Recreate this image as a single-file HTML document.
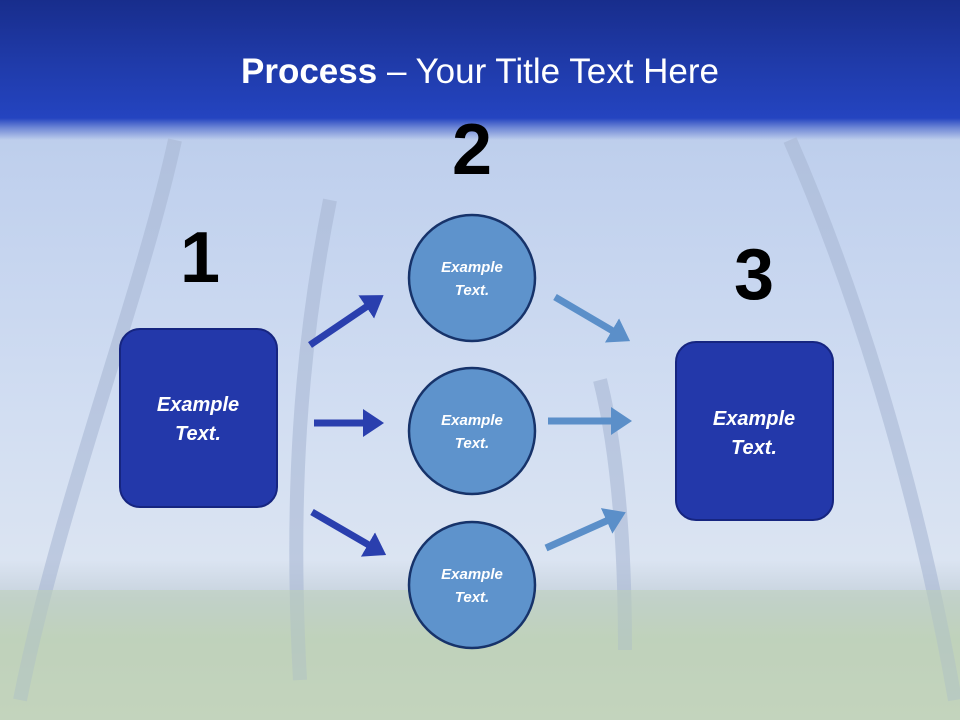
<!DOCTYPE html>
<html><head><meta charset="utf-8"><style>
html,body{margin:0;padding:0}
body{width:960px;height:720px;position:relative;overflow:hidden;font-family:"Liberation Sans",sans-serif;
background:linear-gradient(180deg,#b4c6e8 0px,#c2d2ee 200px,#d2def2 420px,#dbe4f2 560px,#c6d2dc 600px,#c3d4c2 640px,#cbd8c6 720px);}
.banner{position:absolute;left:0;top:0;width:960px;height:140px;background:linear-gradient(180deg,#182d8c 0px,#1f3aa8 60px,#2444c0 118px,rgba(60,90,200,0.6) 128px,rgba(120,150,220,0) 140px);}
.title{position:absolute;top:52px;width:960px;text-align:center;color:#fff;font-size:35px;}
.num{position:absolute;font-weight:bold;font-size:72px;color:#000;transform:translateX(-50%);line-height:1}
</style></head><body>
<div class="banner"></div>
<div class="title"><b>Process</b> – Your Title Text Here</div>
<svg width="960" height="720" style="position:absolute;left:0;top:0" font-family="Liberation Sans, sans-serif">
<defs>
<marker id="ad" markerWidth="4" markerHeight="4" refX="1" refY="2" orient="auto" markerUnits="strokeWidth"><path d="M0,0 L3,2 L0,4 Z" fill="#2a3fae"/></marker>
<marker id="al" markerWidth="4" markerHeight="4" refX="1" refY="2" orient="auto" markerUnits="strokeWidth"><path d="M0,0 L3,2 L0,4 Z" fill="#5b8fc9"/></marker>
</defs>
<!-- faint palm trunks -->
<g stroke="#a9b8d4" stroke-width="14" fill="none" opacity="0.6">
<path d="M175,140 C140,300 60,500 20,700"/>
<path d="M330,200 C300,350 290,500 300,680"/>
<path d="M790,140 C860,300 920,500 955,700"/>
<path d="M600,380 C620,460 625,560 625,650"/>
</g>
<rect x="0" y="590" width="960" height="130" fill="#bccfb4" opacity="0.5"/>
<g stroke="#2a3fae" stroke-width="7" fill="none">
<line x1="310" y1="345" x2="372" y2="303" marker-end="url(#ad)"/>
<line x1="314" y1="423" x2="370" y2="423" marker-end="url(#ad)"/>
<line x1="312" y1="512" x2="374" y2="548" marker-end="url(#ad)"/>
</g>
<g stroke="#5b8fc9" stroke-width="7" fill="none">
<line x1="555" y1="297" x2="618" y2="334" marker-end="url(#al)"/>
<line x1="548" y1="421" x2="618" y2="421" marker-end="url(#al)"/>
<line x1="546" y1="548" x2="613" y2="518" marker-end="url(#al)"/>
</g>
<rect x="120" y="329" width="157" height="178" rx="20" fill="#2338aa" stroke="#162580" stroke-width="2"/>
<rect x="676" y="342" width="157" height="178" rx="20" fill="#2338aa" stroke="#162580" stroke-width="2"/>
<g fill="#5e93cc" stroke="#17336a" stroke-width="2.5">
<circle cx="472" cy="278" r="63"/><circle cx="472" cy="431" r="63"/><circle cx="472" cy="585" r="63"/>
</g>
<g fill="#fff" font-weight="bold" font-style="italic" text-anchor="middle">
<text x="198" y="411" font-size="20">Example</text><text x="198" y="440" font-size="20">Text.</text>
<text x="754" y="425" font-size="20">Example</text><text x="754" y="454" font-size="20">Text.</text>
<text x="472" y="272" font-size="15">Example</text><text x="472" y="295" font-size="15">Text.</text>
<text x="472" y="425" font-size="15">Example</text><text x="472" y="448" font-size="15">Text.</text>
<text x="472" y="579" font-size="15">Example</text><text x="472" y="602" font-size="15">Text.</text>
</g>
</svg>
<div class="num" style="left:200px;top:222px">1</div>
<div class="num" style="left:472px;top:114px">2</div>
<div class="num" style="left:754px;top:239px">3</div>
</body></html>
